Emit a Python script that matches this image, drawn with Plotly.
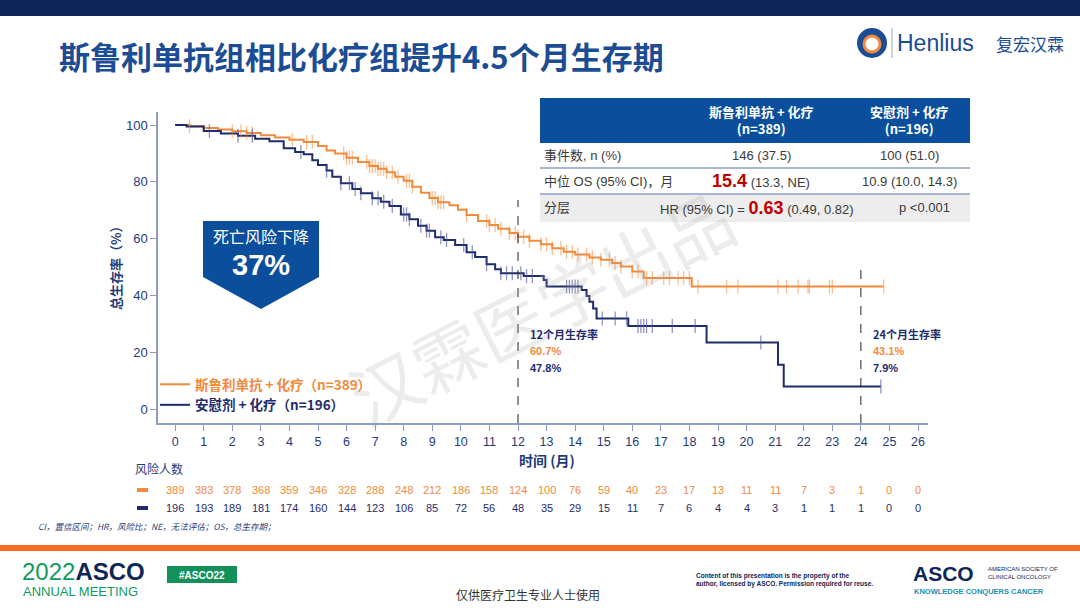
import numpy as np
import plotly.graph_objects as go

W, H = 1080, 608

# ---------------- data ----------------
months = list(range(0, 27))

# KM step data, serplulimab + chemo
ser_t = [0, 0.5, 1.0, 1.5, 2.0, 2.5, 3.0, 3.5, 4.0, 4.5, 5.0, 5.3, 5.6, 6.0, 6.4, 6.8,
         7.1, 7.4, 7.7, 8.0, 8.3, 8.6, 8.9, 9.2, 9.6, 9.9, 10.2, 10.6, 11.0, 11.3, 11.7,
         12.0, 12.4, 12.8, 13.2, 13.6, 14.0, 14.5, 14.9, 15.3, 15.6, 16.0, 16.4, 18.08, 24.8]
ser_s = [100, 99.6, 99.0, 98.4, 97.8, 97.2, 96.4, 95.6, 94.8, 94.0, 92.6, 91.0, 90.0, 88.5, 87.0, 85.6,
         84.6, 83.4, 81.8, 80.4, 78.3, 76.2, 74.3, 72.8, 71.8, 70.2, 68.3, 66.2, 64.8, 63.5, 62.0,
         60.7, 59.3, 58.0, 56.6, 55.4, 54.4, 53.4, 52.6, 51.4, 50.2, 48.4, 46.1, 43.1, 43.1]

# KM step data, placebo + chemo
pla_t = [0, 0.4, 1.0, 1.6, 2.2, 2.8, 3.3, 3.8, 4.2, 4.5, 4.8, 5.0, 5.3, 5.5, 5.8, 6.2, 6.5,
         6.9, 7.2, 7.5, 7.9, 8.2, 8.5, 8.8, 9.1, 9.4, 9.8, 10.2, 10.5, 10.9, 11.2, 11.4,
         12.2, 12.9, 13.0, 14.23, 14.4, 14.5, 14.63, 14.75, 15.86, 18.6, 21.1, 21.3, 24.7]
pla_s = [100, 99.5, 97.9, 97.0, 96.2, 95.2, 94.3, 91.8, 90.5, 89.7, 87.6, 85.9, 84.0, 81.8, 79.5, 77.5, 76.0,
         74.2, 73.0, 71.5, 68.5, 66.8, 64.5, 62.8, 60.5, 59.5, 57.8, 55.2, 53.5, 51.0, 49.2, 47.8,
         46.8, 45.4, 43.1, 41.9, 39.8, 37.8, 35.4, 31.9, 29.2, 23.4, 15.6, 7.9, 7.9]

ser_censor = [0.5, 2.0, 2.3, 2.5, 2.7, 4.1, 4.6, 4.8, 5.9, 6.0, 6.1, 6.2, 6.7, 6.8, 6.9, 7.0, 7.1,
              7.2, 7.3, 7.4, 7.6, 7.8, 8.1, 8.2, 8.3, 9.0, 9.1, 9.2, 9.3, 9.4, 10.2, 10.9, 11.0,
              11.2, 11.4, 11.7, 11.9, 12.0, 12.2, 12.4, 12.8, 13.0, 13.2, 13.5, 13.7, 13.9, 14.1,
              14.4, 14.6, 14.9, 15.2, 15.4, 15.6, 16.0, 16.2, 16.5, 16.7, 17.1, 17.3, 17.6, 17.8,
              18.0, 18.3, 19.3, 19.7, 21.1, 21.4, 21.8, 22.15, 22.2, 22.9, 23.0, 24.8]
pla_censor = [1.2, 2.2, 2.7, 4.4, 5.3, 5.8, 6.1, 6.3, 6.5, 6.9, 7.1, 7.3, 7.6, 8.0, 8.1, 8.2, 8.6,
              8.8, 8.9, 9.3, 9.5, 10.1, 10.4, 10.9, 11.4, 11.6, 11.8, 12.1, 12.3, 12.5, 13.7, 13.8,
              13.9, 14.0, 14.1, 14.95, 15.4, 15.8, 16.2, 16.3, 16.4, 16.5, 16.7, 17.4, 18.2, 20.5, 24.7]

ser_risk = [389, 383, 378, 368, 359, 346, 328, 288, 248, 212, 186, 158, 124, 100, 76, 59, 40, 23,
            17, 13, 11, 11, 7, 3, 1, 0, 0]
pla_risk = [196, 193, 189, 181, 174, 160, 144, 123, 106, 85, 72, 56, 48, 35, 29, 15, 11, 7, 6, 4,
            4, 3, 1, 1, 1, 0, 0]

milestones = [12, 24]
milestone_top = [73.6, 51.3]
ser_milestone = ["60.7%", "43.1%"]
pla_milestone = ["47.8%", "7.9%"]

y_ticks = [0, 20, 40, 60, 80, 100]

# ---------------- styles ----------------
ORANGE = "#F28A3C"
ORANGE_T = "rgba(242,138,60,0.55)"
NAVY = "#1F2C6B"
NAVY_T = "rgba(70,82,150,0.6)"
BLUE = "#0B4F9C"
TITLE_BLUE = "#1B4C94"
AXIS = "#8E9CC0"
TXT_NAVY = "#1F3A78"
FONT = "Liberation Sans, Arial, Noto Sans CJK SC, sans-serif"
CJK = "Noto Sans CJK SC, Liberation Sans, sans-serif"


def px(x):
    return x / W


def py(y):
    return 1 - y / H


def step_at(times, surv, pts):
    times = np.asarray(times)
    surv = np.asarray(surv)
    idx = np.searchsorted(times, np.asarray(pts), side="right") - 1
    return surv[idx]


fig = go.Figure()

fig.add_trace(go.Scatter(
    x=ser_t, y=ser_s, mode="lines", line=dict(color=ORANGE, width=2, shape="hv"),
    name="<b><span style='color:%s'>斯鲁利单抗 + 化疗（n=389）</span></b>" % ORANGE,
    hoverinfo="skip"))
fig.add_trace(go.Scatter(
    x=pla_t, y=pla_s, mode="lines", line=dict(color=NAVY, width=2, shape="hv"),
    name="<b><span style='color:%s'>安慰剂 + 化疗（n=196）</span></b>" % NAVY,
    hoverinfo="skip"))
fig.add_trace(go.Scatter(
    x=ser_censor, y=step_at(ser_t, ser_s, ser_censor), mode="markers",
    marker=dict(symbol="line-ns-open", size=10, color=ORANGE_T,
                line=dict(color=ORANGE_T, width=1.3)),
    showlegend=False, hoverinfo="skip"))
fig.add_trace(go.Scatter(
    x=pla_censor, y=step_at(pla_t, pla_s, pla_censor), mode="markers",
    marker=dict(symbol="line-ns-open", size=10, color=NAVY_T,
                line=dict(color=NAVY_T, width=1.3)),
    showlegend=False, hoverinfo="skip"))

X_RANGE = [-0.6, 26.35]
Y_RANGE = [-4.93, 104.6]

fig.update_layout(
    width=W, height=H, margin=dict(l=0, r=0, t=0, b=0),
    paper_bgcolor="white", plot_bgcolor="white",
    font=dict(family=FONT, color=TXT_NAVY),
    xaxis=dict(domain=[px(158), px(928)], range=X_RANGE, tickvals=months,
               showgrid=False, zeroline=False, showline=True, linecolor=AXIS, linewidth=1.5,
               ticks="outside", ticklen=6, tickcolor=AXIS, tickwidth=1.2,
               tickfont=dict(size=12.5, color=TXT_NAVY)),
    yaxis=dict(domain=[py(423), py(112)], range=Y_RANGE, tickvals=y_ticks,
               showgrid=False, zeroline=False, showline=True, linecolor=AXIS, linewidth=1.5,
               ticks="outside", ticklen=6, tickcolor=AXIS, tickwidth=1.2,
               tickfont=dict(size=13, color=TXT_NAVY)),
    legend=dict(x=px(155), y=py(369), xanchor="left", yanchor="top",
                font=dict(size=13.5, family=CJK), bgcolor="rgba(0,0,0,0)",
                itemwidth=30, tracegroupgap=0),
    showlegend=True,
)

shapes = []
ann = []

# top band
shapes.append(dict(type="rect", xref="paper", yref="paper", x0=0, x1=1, y0=py(16), y1=1,
                   fillcolor="#0D2557", line=dict(width=0), layer="below"))
# bottom orange band
shapes.append(dict(type="rect", xref="paper", yref="paper", x0=0, x1=1, y0=py(551), y1=py(545),
                   fillcolor="#F36C21", line=dict(width=0), layer="below"))

# title
ann.append(dict(text="<b>斯鲁利单抗组相比化疗组提升4.5个月生存期</b>", x=px(57), y=py(56),
                xref="paper", yref="paper", xanchor="left", yanchor="middle", showarrow=False,
                font=dict(size=31, color=TITLE_BLUE, family=CJK)))

# Henlius logo
shapes.append(dict(type="circle", xref="paper", yref="paper", x0=px(857), x1=px(887),
                   y0=py(58), y1=py(28), fillcolor=TITLE_BLUE, line=dict(width=0)))
shapes.append(dict(type="circle", xref="paper", yref="paper", x0=px(864), x1=px(880),
                   y0=py(52), y1=py(36), fillcolor="white", line=dict(color="#F28A3C", width=3)))
shapes.append(dict(type="line", xref="paper", yref="paper", x0=px(892), x1=px(892),
                   y0=py(58), y1=py(28), line=dict(color="#9AA6C0", width=1)))
ann.append(dict(text="Henlius", x=px(895), y=py(43), xref="paper", yref="paper",
                xanchor="left", yanchor="middle", showarrow=False,
                font=dict(size=23, color=TITLE_BLUE, family="Liberation Sans")))
ann.append(dict(text="复宏汉霖", x=px(994), y=py(43), xref="paper", yref="paper",
                xanchor="left", yanchor="middle", showarrow=False,
                font=dict(size=17, color=TITLE_BLUE, family=CJK)))

# watermark
ann.append(dict(text="汉霖医学出品", x=px(540), y=py(305), xref="paper", yref="paper",
                xanchor="center", yanchor="middle", showarrow=False, textangle=-27,
                font=dict(size=70, color="rgba(170,170,170,0.22)", family=CJK)))

# table
shapes.append(dict(type="rect", xref="paper", yref="paper", x0=px(540), x1=px(970),
                   y0=py(143), y1=py(98), fillcolor=BLUE, line=dict(width=0)))
shapes.append(dict(type="rect", xref="paper", yref="paper", x0=px(540), x1=px(970),
                   y0=py(222), y1=py(194), fillcolor="#EDEDED", line=dict(width=0)))
for yy in [168, 194]:
    shapes.append(dict(type="line", xref="paper", yref="paper", x0=px(540), x1=px(970),
                       y0=py(yy), y1=py(yy), line=dict(color="#A9B6D2", width=2)))

col1, col2 = 761, 909
ann.append(dict(text="<b>斯鲁利单抗 + 化疗<br>(n=389)</b>", x=px(col1), y=py(120), xref="paper",
                yref="paper", xanchor="center", yanchor="middle", showarrow=False,
                font=dict(size=13, color="white", family=CJK)))
ann.append(dict(text="<b>安慰剂 + 化疗<br>(n=196)</b>", x=px(col2), y=py(120), xref="paper",
                yref="paper", xanchor="center", yanchor="middle", showarrow=False,
                font=dict(size=13, color="white", family=CJK)))
row_font = dict(size=13, color="#3A3A3A", family=FONT)
rows = [
    (156, "事件数, n (%)", "146 (37.5)", "100 (51.0)"),
    (181, "中位 OS (95% CI)，月",
     "<span style='color:#C00000;font-size:18px'><b>15.4</b></span> (13.3, NE)",
     "10.9 (10.0, 14.3)"),
]
for yy, lab, v1, v2 in rows:
    ann.append(dict(text=lab, x=px(542), y=py(yy), xref="paper", yref="paper", xanchor="left",
                    yanchor="middle", showarrow=False, font=row_font))
    ann.append(dict(text=v1, x=px(col1), y=py(yy), xref="paper", yref="paper", xanchor="center",
                    yanchor="middle", showarrow=False, font=row_font))
    ann.append(dict(text=v2, x=px(col2), y=py(yy), xref="paper", yref="paper", xanchor="center",
                    yanchor="middle", showarrow=False, font=row_font))
ann.append(dict(text="分层", x=px(542), y=py(208), xref="paper", yref="paper", xanchor="left",
                yanchor="middle", showarrow=False, font=row_font))
ann.append(dict(text="HR (95% CI) = <span style='color:#C00000;font-size:18px'><b>0.63</b></span> (0.49, 0.82)",
                x=px(757), y=py(208), xref="paper", yref="paper", xanchor="center",
                yanchor="middle", showarrow=False, font=row_font))
ann.append(dict(text="p <0.001", x=px(924), y=py(208), xref="paper", yref="paper",
                xanchor="center", yanchor="middle", showarrow=False, font=row_font))

# "死亡风险下降 37%" badge
x0, x1, xm = px(203), px(319), px(261)
ya, yb, yc = py(221), py(277), py(309)
shapes.append(dict(type="path", xref="paper", yref="paper",
                   path=f"M {x0} {ya} L {x1} {ya} L {x1} {yb} L {xm} {yc} L {x0} {yb} Z",
                   fillcolor=BLUE, line=dict(width=0)))
ann.append(dict(text="死亡风险下降", x=px(261), y=py(236), xref="paper", yref="paper",
                xanchor="center", yanchor="middle", showarrow=False,
                font=dict(size=16, color="white", family=CJK)))
ann.append(dict(text="<b>37%</b>", x=px(261), y=py(265), xref="paper", yref="paper",
                xanchor="center", yanchor="middle", showarrow=False,
                font=dict(size=29, color="white", family="Liberation Sans")))

# milestone lines & labels
for m, top, so, sp in zip(milestones, milestone_top, ser_milestone, pla_milestone):
    shapes.append(dict(type="line", xref="x", yref="y", x0=m, x1=m, y0=Y_RANGE[0], y1=top,
                       line=dict(color="#222222", width=1, dash="dash")))
    ann.append(dict(text=f"<b>{m}个月生存率</b>", x=m, y=py(334), xref="x", yref="paper",
                    xanchor="left", yanchor="middle", xshift=10, showarrow=False,
                    font=dict(size=11, color=NAVY, family=CJK)))
    ann.append(dict(text=f"<b>{so}</b>", x=m, y=py(351), xref="x", yref="paper",
                    xanchor="left", yanchor="middle", xshift=10, showarrow=False,
                    font=dict(size=11, color=ORANGE, family=FONT)))
    ann.append(dict(text=f"<b>{sp}</b>", x=m, y=py(368), xref="x", yref="paper",
                    xanchor="left", yanchor="middle", xshift=10, showarrow=False,
                    font=dict(size=11, color=NAVY, family=FONT)))

# axis titles
ann.append(dict(text="<b>总生存率（%）</b>", x=px(115), y=py(265), xref="paper", yref="paper",
                xanchor="center", yanchor="middle", showarrow=False, textangle=-90,
                font=dict(size=13, color=TXT_NAVY, family=CJK)))
ann.append(dict(text="<b>时间 (月)</b>", x=px(547), y=py(460), xref="paper", yref="paper",
                xanchor="center", yanchor="middle", showarrow=False,
                font=dict(size=14, color=TXT_NAVY, family=CJK)))

# risk table
ann.append(dict(text="风险人数", x=px(133), y=py(468), xref="paper", yref="paper",
                xanchor="left", yanchor="middle", showarrow=False,
                font=dict(size=12, color=TXT_NAVY, family=CJK)))
shapes.append(dict(type="rect", xref="paper", yref="paper", x0=px(137), x1=px(148),
                   y0=py(492), y1=py(488), fillcolor=ORANGE, line=dict(width=0)))
shapes.append(dict(type="rect", xref="paper", yref="paper", x0=px(137), x1=px(148),
                   y0=py(510), y1=py(506), fillcolor=NAVY, line=dict(width=0)))
for m, a, b in zip(months, ser_risk, pla_risk):
    ann.append(dict(text=str(a), x=m, y=py(490), xref="x", yref="paper", xanchor="center",
                    yanchor="middle", showarrow=False, font=dict(size=11, color=ORANGE)))
    ann.append(dict(text=str(b), x=m, y=py(508), xref="x", yref="paper", xanchor="center",
                    yanchor="middle", showarrow=False, font=dict(size=11, color=NAVY)))

ann.append(dict(text="<i>CI，置信区间；HR，风险比；NE，无法评估；OS，总生存期；</i>", x=px(36), y=py(526),
                xref="paper", yref="paper", xanchor="left", yanchor="middle", showarrow=False,
                font=dict(size=8.5, color=TXT_NAVY, family=CJK)))

# footer
ann.append(dict(text="<span style='color:#119A5B'>2022</span><b><span style='color:#0D2557'>ASCO</span></b>",
                x=px(20), y=py(571), xref="paper", yref="paper", xanchor="left", yanchor="middle",
                showarrow=False, font=dict(size=24, family="Liberation Sans Narrow, Liberation Sans")))
ann.append(dict(text="ANNUAL MEETING", x=px(21), y=py(591), xref="paper", yref="paper",
                xanchor="left", yanchor="middle", showarrow=False,
                font=dict(size=13, color="#119A5B", family="Liberation Sans Narrow, Liberation Sans")))
shapes.append(dict(type="rect", xref="paper", yref="paper", x0=px(167), x1=px(237),
                   y0=py(583), y1=py(566), fillcolor="#14905A", line=dict(width=0)))
ann.append(dict(text="<b>#ASCO22</b>", x=px(202), y=py(575), xref="paper", yref="paper",
                xanchor="center", yanchor="middle", showarrow=False,
                font=dict(size=10, color="white", family="Liberation Sans Narrow, Liberation Sans")))
ann.append(dict(text="仅供医疗卫生专业人士使用", x=px(528), y=py(594), xref="paper", yref="paper",
                xanchor="center", yanchor="middle", showarrow=False,
                font=dict(size=12, color="#333333", family=CJK)))
ann.append(dict(text="<b>Content of this presentation is the property of the<br>author, licensed by ASCO. Permission required for reuse.</b>",
                x=px(694), y=py(580), xref="paper", yref="paper", xanchor="left", yanchor="middle",
                align="left", showarrow=False,
                font=dict(size=6.5, color="#0D2557", family="Liberation Sans Narrow, Liberation Sans")))
ann.append(dict(text="<b>ASCO</b>", x=px(911), y=py(573), xref="paper", yref="paper",
                xanchor="left", yanchor="middle", showarrow=False,
                font=dict(size=21, color="#0D2557", family="Liberation Sans")))
ann.append(dict(text="AMERICAN SOCIETY OF<br>CLINICAL ONCOLOGY", x=px(986), y=py(573), xref="paper",
                yref="paper", xanchor="left", yanchor="middle", align="left", showarrow=False,
                font=dict(size=6, color="#0D2557", family="Liberation Sans")))
ann.append(dict(text="<b>KNOWLEDGE CONQUERS CANCER</b>", x=px(912), y=py(591), xref="paper", yref="paper",
                xanchor="left", yanchor="middle", showarrow=False,
                font=dict(size=7.5, color="#1A8FB0", family="Liberation Sans")))

fig.update_layout(shapes=shapes, annotations=ann)
fig.write_html("out.html", config={"displayModeBar": False},
               post_script="document.body.style.margin='0';document.body.style.overflow='hidden';")
